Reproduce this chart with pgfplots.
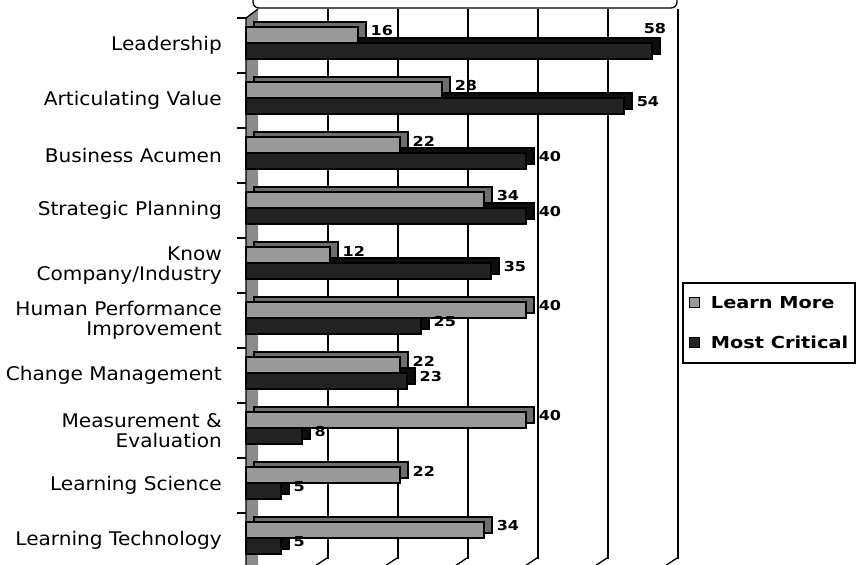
\documentclass[border=0pt]{standalone}
\usepackage{pgfplots}
\pgfplotsset{compat=1.18}
\usepackage{pgfplotstable}
\usepackage{fontspec}
\setmainfont{DejaVu Sans}
\newfontfamily\catfont[FakeStretch=1.07]{DejaVu Sans}
\newfontfamily\boldfont[FakeStretch=1.17]{DejaVu Sans}
\definecolor{lgray}{HTML}{999999}
\definecolor{lgrayside}{HTML}{6E6E6E}
\definecolor{dgray}{HTML}{232323}
\definecolor{dgrayside}{HTML}{0E0E0E}
\definecolor{wallgray}{HTML}{8C8C8C}
\pgfplotstableread{
y learn crit
9 16 58
8 28 54
7 22 40
6 34 40
5 12 35
4 40 25
3 22 23
2 40 8
1 22 5
0 34 5
}\data
\begin{document}
\begin{tikzpicture}[x=1pt,y=1pt]
\useasboundingbox (0,0) rectangle (860,-565);
% remnant of the title box
\draw[line width=1.3pt, rounded corners=6pt] (253,4) -- (253,-8) -- (677,-8) -- (677,4);
% left side wall
\fill[wallgray] (246,-18) -- (258,-9) -- (258,-565) -- (246,-565) -- cycle;
\begin{axis}[
  at={(258pt,-559pt)}, anchor=south west,
  scale only axis, width=420pt, height=550pt,
  xmin=0, xmax=60, ymin=-0.5, ymax=9.5,
  clip=false,
  axis line style={draw=none},
  xbar,
  /pgf/number format/assume math mode=true,
  xtick={10,20,30,40,50}, xticklabels={},
  xmajorgrids, major grid style={black, line width=1.6pt},
  extra x ticks={60}, extra x tick labels={},
  extra x tick style={grid style={gray!70, line width=1.2pt}},
  major tick length=0pt,
  ytick={0,...,9},
  yticklabels={Learning Technology, Learning Science, {Measurement \&\\Evaluation}, Change Management, {Human Performance\\Improvement}, {Know\\Company/Industry}, Strategic Planning, Business Acumen, Articulating Value, Leadership},
  yticklabel style={anchor=east, inner sep=0pt, xshift=-36pt, yshift=-9pt, align=right, font=\catfont\fontsize{18.8}{20}\selectfont},
  minor ytick={-0.5,0.5,...,9.5},
  minor tick length=9pt,
  tick align=outside,
  tick pos=left,
  minor y tick style={black, line width=1.3pt, xshift=-12pt, yshift=-9pt},
  bar width=16pt,
  legend style={at={(axis description cs:1.0095,0.5036)}, anchor=north west, draw=black, line width=2pt, font=\boldfont\bfseries\fontsize{16.5}{18}\selectfont, inner xsep=6pt, inner ysep=12pt, nodes={inner sep=1pt}, row sep=24pt},
  legend cell align=left,
]
% depth (top/side faces)
\addplot[bar shift=-5.5pt, fill=dgrayside, draw=black, line width=1.5pt, xshift=-4pt, yshift=-4pt, forget plot] table[x=crit,y=y]{\data};
\addplot[bar shift=10.5pt, fill=lgrayside, draw=black, line width=1.5pt, xshift=-4pt, yshift=-4pt, forget plot] table[x=learn,y=y]{\data};
% front faces
\addplot[bar shift=10.5pt, fill=lgray, draw=black, line width=1.5pt, xshift=-12pt, yshift=-9pt, forget plot,
  nodes near coords, nodes near coords style={anchor=west, inner sep=0pt, xshift=12pt, yshift=4pt, font=\boldfont\bfseries\fontsize{13.7}{14}\selectfont}] table[x=learn,y=y]{\data};
\addplot[bar shift=-5.5pt, fill=dgray, draw=black, line width=1.5pt, xshift=-12pt, yshift=-9pt, forget plot,
  visualization depends on={\thisrow{crit} \as \rx},
  nodes near coords, nodes near coords style={anchor=west, inner sep=0pt, xshift={12pt-21pt*(\rx>57)}, yshift={4pt+18.5pt*(\rx>57)}, font=\boldfont\bfseries\fontsize{13.7}{14}\selectfont}] table[x=crit,y=y]{\data};
\addlegendimage{legend image code/.code={\draw[fill=lgray, draw=black, line width=1pt] (0pt,-5pt) rectangle (10pt,5pt);}}
\addlegendentry{\hspace{10pt}Learn More}
\addlegendimage{legend image code/.code={\draw[fill=dgray, draw=black, line width=1pt] (0pt,-5pt) rectangle (10pt,5pt);}}
\addlegendentry{\hspace{10pt}Most Critical}
\end{axis}
% front-left edge of the wall
\draw[line width=1.3pt] (246,-568) -- (246,-18) -- (258,-9);
% floor tick lines
\foreach \k in {1,...,6} {\draw[line width=1.3pt] ({245+70*\k},-566) -- ({257+70*\k},-558);}
\end{tikzpicture}
\end{document}
